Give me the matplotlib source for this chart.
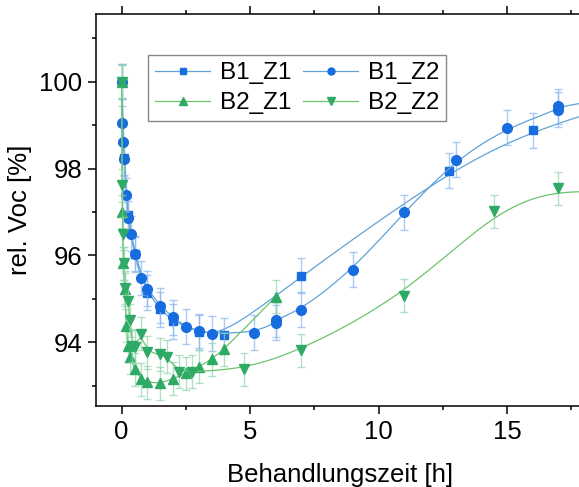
import numpy as np
import matplotlib
matplotlib.use('Agg')
import matplotlib.pyplot as plt
from matplotlib.lines import Line2D

plt.rcParams['font.family'] = ['Liberation Sans', 'DejaVu Sans']

# data (last points lie past the cropped right edge)
b1z1_t = [0, 0.1, 0.25, 0.5, 1.0, 1.5, 2.0, 3.0, 4.0, 7.0, 12.74, 16.0, 19.5]
b1z1_v = [100, 98.25, 96.92, 96.04, 95.14, 94.76, 94.48, 94.23, 94.16, 95.53, 97.95, 98.88, 99.5]
b1z1_e = [0.4, 0.4, 0.4, 0.4, 0.4, 0.4, 0.4, 0.4, 0.4, 0.4, 0.4, 0.4, 0.4]

b1z2_t = [0, 0.02, 0.05, 0.09, 0.17, 0.26, 0.35, 0.5, 0.75, 1.0, 1.5, 2.0, 2.5, 3.0, 3.5,
          5.16, 6.0, 6.0, 7.0, 9.0, 11.0, 13.0, 15.0, 17.0, 17.0, 20.0]
b1z2_v = [100, 99.05, 98.62, 98.23, 97.38, 96.85, 96.5, 96.02, 95.48, 95.23, 94.84, 94.57, 94.36,
          94.26, 94.2, 94.22, 94.45, 94.52, 94.75, 95.67, 96.99, 98.2, 98.94, 99.36, 99.43, 99.7]
b1z2_e = [0.4] * len(b1z2_t)

b2z1_t = [0, 0.02, 0.06, 0.12, 0.17, 0.25, 0.33, 0.5, 0.75, 1.0, 1.5, 2.0, 2.5, 3.0, 3.5, 4.0, 6.0]
b2z1_v = [100, 97.0, 95.82, 95.22, 94.38, 93.92, 93.65, 93.38, 93.15, 93.08, 93.05, 93.16,
          93.28, 93.43, 93.61, 93.84, 95.05]
b2z1_e = [0.38] * len(b2z1_t)

b2z2_t = [0, 0.02, 0.05, 0.08, 0.13, 0.25, 0.33, 0.42, 0.5, 0.75, 1.0, 1.5, 1.75, 2.25, 2.75,
          4.75, 7.0, 11.0, 14.5, 17.0, 20.0]
b2z2_v = [100, 97.62, 96.5, 95.82, 95.25, 94.95, 94.5, 93.92, 93.9, 94.2, 93.77, 93.72, 93.66,
          93.32, 93.32, 93.38, 93.81, 95.07, 97.02, 97.55, 97.4]
b2z2_e = [0.38] * len(b2z2_t)

labels = ['B1_Z1', 'B1_Z2', 'B2_Z1', 'B2_Z2']


def bspline(x, y, n=20):
    # uniform cubic B-spline, data points as control points, clamped ends
    P = np.column_stack([x, y]).astype(float)
    P = np.vstack([P[0], P[0], P, P[-1], P[-1]])
    t = np.linspace(0, 1, n, endpoint=False)[:, None]
    b0 = (1 - t) ** 3 / 6
    b1 = (3 * t ** 3 - 6 * t ** 2 + 4) / 6
    b2 = (-3 * t ** 3 + 3 * t ** 2 + 3 * t + 1) / 6
    b3 = t ** 3 / 6
    segs = []
    for i in range(len(P) - 3):
        segs.append(b0 * P[i] + b1 * P[i + 1] + b2 * P[i + 2] + b3 * P[i + 3])
    segs.append(P[-1][None, :])
    c = np.vstack(segs)
    return c[:, 0], c[:, 1]


fig = plt.figure(figsize=(5.79, 4.87), dpi=100)
ax = fig.add_axes([96 / 579, 81 / 487, 488 / 579, 392 / 487])

blue = '#176ce0'
blue_line = '#5fa3d9'
blue_err = '#8ab6ef'
green = '#2eaa66'
green_line = '#6cc46c'
green_err = '#93d4ab'

series = [
    (b1z1_t, b1z1_v, b1z1_e, 's', 6.2, blue, blue_line, blue_err),
    (b1z2_t, b1z2_v, b1z2_e, 'o', 7.0, blue, blue_line, blue_err),
    (b2z1_t, b2z1_v, b2z1_e, '^', 7.4, green, green_line, green_err),
    (b2z2_t, b2z2_v, b2z2_e, 'v', 7.4, green, green_line, green_err),
]

handles = []
z = 2
for t, v, e, m, ms, mc, lc, ec in series:
    sx, sy = bspline(t, v)
    ax.plot(sx, sy, color=lc, lw=0.9, zorder=z)
    ax.errorbar(t, v, yerr=e, fmt='none', ecolor=ec, elinewidth=1.0, capsize=3,
                capthick=1.0, alpha=0.7, zorder=z + 0.1)
    ax.plot(t, v, ls='none', marker=m, ms=ms, color=mc, mec=mc, zorder=z + 0.2)
    handles.append(Line2D([], [], color=lc, lw=0.9, marker=m, ms=ms * 0.72, mfc=mc, mec=mc))
    z += 1

ax.set_xlim(-1, 18)
ax.set_ylim(92.53, 101.56)
ax.set_xticks([0, 5, 10, 15])
ax.set_xticks(np.arange(-0, 18, 2.5), minor=True)
ax.set_yticks([94, 96, 98, 100])
ax.set_yticks(np.arange(93, 102, 1), minor=True)
ax.tick_params(which='both', direction='out', top=True, labelsize=18.5, width=1.1)
ax.tick_params(which='major', length=5.5, pad=4.5)
ax.tick_params(which='minor', length=3)
for s in ax.spines.values():
    s.set_linewidth(1.1)

ax.set_xlabel('Behandlungszeit [h]', fontsize=18.5, labelpad=14)
ax.set_ylabel('rel. Voc [%]', fontsize=18.5, labelpad=5)

# matplotlib fills legend column by column, so reorder for row layout
order = [0, 2, 1, 3]
leg = ax.legend([handles[i] for i in order], [labels[i] for i in order], ncol=2,
                fontsize=17.5, loc='upper left',
                bbox_to_anchor=(148 / 579, 1 - 55 / 487), bbox_transform=fig.transFigure,
                frameon=True, fancybox=False, framealpha=1, edgecolor='#888888',
                handlelength=2.25, handletextpad=0.4, columnspacing=0.5,
                labelspacing=0.32, borderpad=0.3, borderaxespad=0)
leg.get_frame().set_linewidth(1.0)

fig.savefig('out.png', dpi=100)
